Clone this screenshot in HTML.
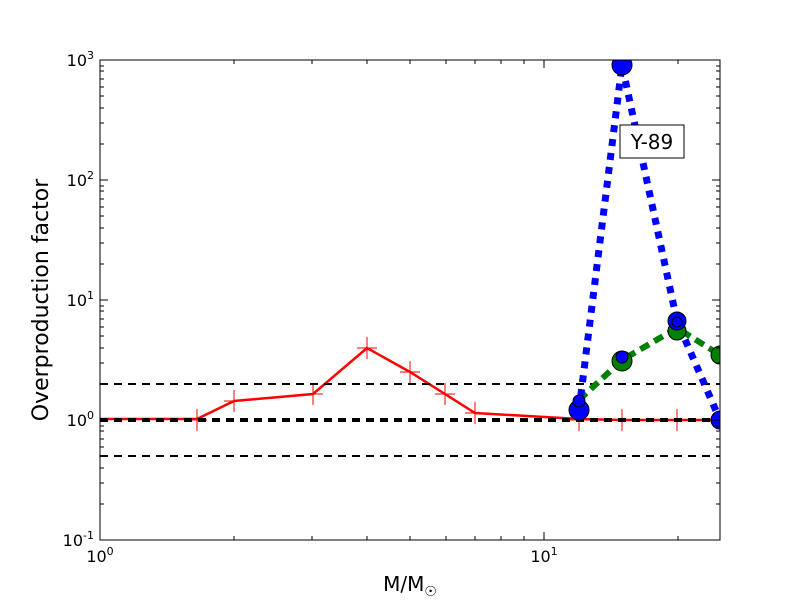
<!DOCTYPE html><html><head><style>body{margin:0;background:#fff}svg{display:block}</style></head><body>
<svg width="800" height="600" xmlns="http://www.w3.org/2000/svg" font-family="DejaVu Sans, Liberation Sans, sans-serif">
<rect width="800" height="600" fill="#fff"/>
<defs><clipPath id="c"><rect x="100" y="60" width="620" height="480"/></clipPath></defs>
<g clip-path="url(#c)">
<polyline points="100,419 197,419 234,401 313,394 367,348 410,372 445,394 475,413 579,419 622,420 677,420 720,420" fill="none" stroke="red" stroke-width="2.5"/>
<g stroke="red" stroke-width="1">
<path d="M187,420h20M197,409v22 M224,401h20M234,390v22 M303,394h20M313,383v22 M357,348h20M367,337v22 M400,372h20M410,361v22 M435,394h20M445,383v22 M465,413h20M475,402v22 M569,420h20M579,409v22 M612,420h20M622,409v22 M667,420h20M677,409v22 M710,420h20M720,409v22"/>
</g>
<line x1="100" x2="720" y1="384" y2="384" stroke="#000" stroke-width="2" stroke-dasharray="8,6"/>
<line x1="100" x2="720" y1="456" y2="456" stroke="#000" stroke-width="2" stroke-dasharray="8,6"/>
<line x1="100" x2="720" y1="420" y2="420" stroke="#000" stroke-width="4" stroke-dasharray="8,6"/>
<polyline points="579,400 622,360 677,328 720,355" fill="none" stroke="green" stroke-width="6" stroke-dasharray="10,6"/>
<polyline points="579,410 622,65 677,321 720,420" fill="none" stroke="blue" stroke-width="7" stroke-dasharray="7,7"/>
<g stroke="#000" stroke-width="1">
<circle cx="622" cy="361" r="10" fill="green"/><circle cx="677" cy="331" r="9" fill="green"/><circle cx="720" cy="355" r="9" fill="green"/>
<circle cx="579" cy="410" r="10" fill="blue"/><circle cx="579" cy="401" r="6" fill="blue"/>
<circle cx="622" cy="65" r="10" fill="blue"/><circle cx="622" cy="357" r="6" fill="blue"/>
<circle cx="677" cy="321" r="9" fill="blue"/><circle cx="677" cy="322" r="5" fill="blue"/>
<circle cx="720" cy="420" r="9" fill="blue"/>
</g>
</g>
<rect x="620" y="125" width="64" height="33" fill="#fff" stroke="#000" stroke-width="1"/>
<text x="652" y="149" font-size="20" text-anchor="middle">Y-89</text>
<rect x="100" y="60" width="620" height="480" fill="none" stroke="#000" stroke-width="1"/>
<g stroke="#000" stroke-width="1">
<path d="M100,540v-8M100,60v8M544,540v-8M544,60v8"/>
<path d="M234,540v-4M234,60v4M312,540v-4M312,60v4M367,540v-4M367,60v4M410,540v-4M410,60v4M446,540v-4M446,60v4M475,540v-4M475,60v4M501,540v-4M501,60v4M524,540v-4M524,60v4M678,540v-4M678,60v4"/>
<path d="M100,60h8M720,60h-8M100,180h8M720,180h-8M100,300h8M720,300h-8M100,420h8M720,420h-8M100,540h8M720,540h-8"/>
<path id="m" d="M100,504h4M100,483h4M100,468h4M100,456h4M100,447h4M100,439h4M100,431h4M100,426h4M720,504h-4M720,483h-4M720,468h-4M720,456h-4M720,447h-4M720,439h-4M720,431h-4M720,426h-4"/>
<use href="#m" y="-120"/><use href="#m" y="-240"/><use href="#m" y="-360"/>
</g>
<g font-size="16" text-anchor="end">
<text x="94" y="66">10<tspan font-size="11" dy="-7">3</tspan></text>
<text x="94" y="186">10<tspan font-size="11" dy="-7">2</tspan></text>
<text x="94" y="306">10<tspan font-size="11" dy="-7">1</tspan></text>
<text x="94" y="426">10<tspan font-size="11" dy="-7">0</tspan></text>
<text x="94" y="546">10<tspan font-size="11" dy="-7">-1</tspan></text>
</g>
<g font-size="16" text-anchor="middle">
<text x="100" y="562">10<tspan font-size="11" dy="-7">0</tspan></text>
<text x="544" y="562">10<tspan font-size="11" dy="-7">1</tspan></text>
</g>
<text x="410" y="591" font-size="20" text-anchor="middle">M/M<tspan font-size="14" dy="5">☉</tspan></text>
<text transform="translate(48,300) rotate(-90)" font-size="22" text-anchor="middle">Overproduction factor</text>
</svg>
</body></html>
